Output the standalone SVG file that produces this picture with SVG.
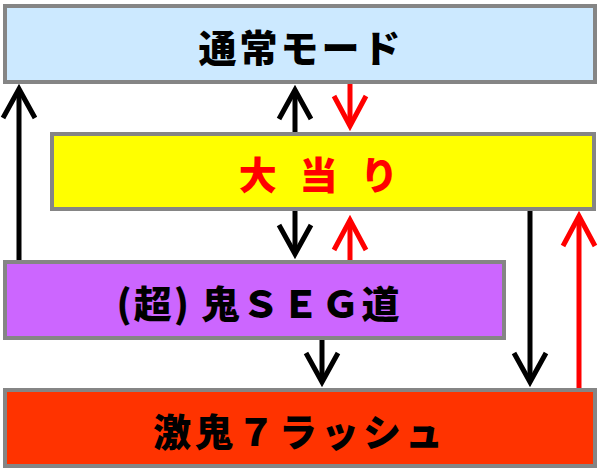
<svg xmlns="http://www.w3.org/2000/svg" width="600" height="472" viewBox="0 0 600 472">
<style>
.box{stroke:#858585;stroke-width:4}
.lbl{font-family:"Noto Sans CJK JP","Noto Sans CJK SC",sans-serif;font-weight:900;font-size:38px;text-anchor:middle;dominant-baseline:central}
.k{stroke:#000;stroke-width:5;fill:none}
.r{stroke:#ff0000;stroke-width:5;fill:none}
</style>
<defs>
<marker id="ak" markerUnits="userSpaceOnUse" viewBox="-40 -20 44 40" refX="0" refY="0" markerWidth="44" markerHeight="40" orient="auto" overflow="visible">
<path d="M -29 -16 L 0 0 L -29 16" fill="none" stroke="#000" stroke-width="5"/>
</marker>
<marker id="ar" markerUnits="userSpaceOnUse" viewBox="-40 -20 44 40" refX="0" refY="0" markerWidth="44" markerHeight="40" orient="auto" overflow="visible">
<path d="M -30 -16 L 0 0 L -30 16" fill="none" stroke="#ff0000" stroke-width="5"/>
</marker>
</defs>
<rect width="600" height="472" fill="#ffffff"/>
<g id="connectors">
<line class="k" x1="19" y1="261" x2="19" y2="89" marker-end="url(#ak)"/>
<line class="k" x1="295" y1="133" x2="295" y2="90" marker-end="url(#ak)"/>
<line class="r" x1="350" y1="84" x2="350" y2="126" marker-end="url(#ar)"/>
<line class="k" x1="295" y1="210" x2="295" y2="254" marker-end="url(#ak)"/>
<line class="r" x1="350" y1="261" x2="350" y2="220" marker-end="url(#ar)"/>
<line class="k" x1="322" y1="339" x2="322" y2="382" marker-end="url(#ak)"/>
<line class="k" x1="530" y1="210" x2="530" y2="382" marker-end="url(#ak)"/>
<line class="r" x1="579" y1="389" x2="579" y2="216" marker-end="url(#ar)"/>
</g>
<g id="normal">
<rect class="box" x="5" y="6" width="590" height="76" fill="#cce9ff"/>
<text class="lbl" x="301" y="45" fill="#000" letter-spacing="3">通常モード</text>
</g>
<g id="oatari">
<rect class="box" x="52" y="134" width="542" height="75" fill="#ffff00"/>
<text class="lbl" x="322" y="172" fill="#ff0000" letter-spacing="7">大 当 り</text>
</g>
<g id="oniseg">
<rect class="box" x="5" y="262" width="499" height="76" fill="#cc66ff"/>
<text class="lbl" x="259" y="301" fill="#000" letter-spacing="2">(超) 鬼ＳＥＧ道</text>
</g>
<g id="rush">
<rect class="box" x="5" y="390" width="590" height="76" fill="#ff3300"/>
<text class="lbl" x="300" y="429" fill="#000" letter-spacing="4">激鬼７ラッシュ</text>
</g>
</svg>
